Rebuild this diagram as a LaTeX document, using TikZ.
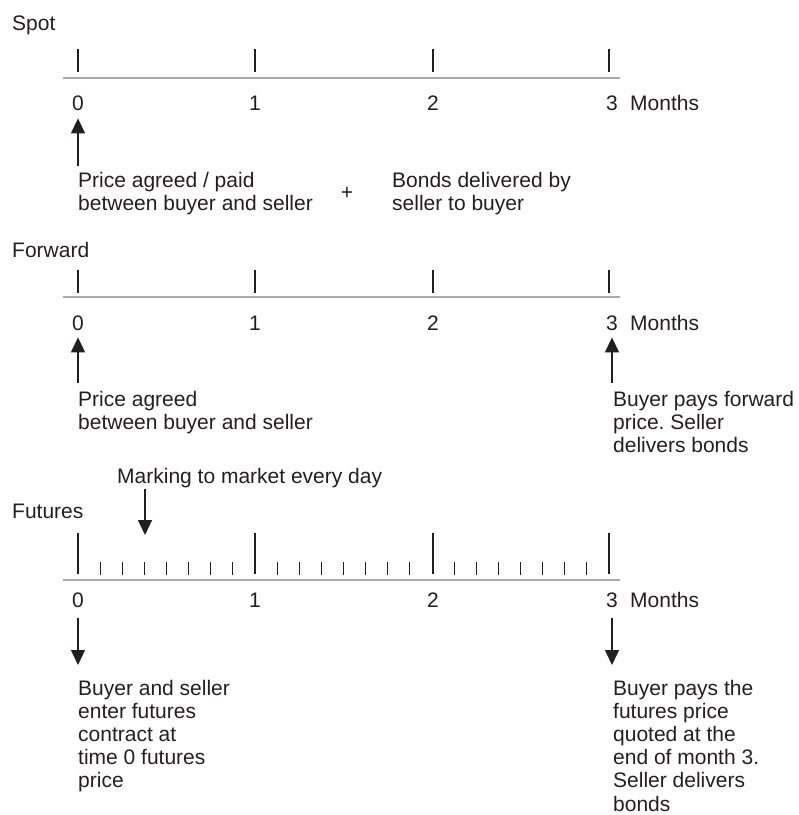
\documentclass[tikz,border=0pt]{standalone}
\usepackage{fontspec}
\setmainfont{Liberation Sans}
\usetikzlibrary{arrows.meta, positioning}
\definecolor{inkgray}{RGB}{35,31,32}
\definecolor{axisgray}{RGB}{167,169,172}
\newcommand{\notefont}{\fontsize{21}{23.2}\selectfont}
\frenchspacing

\begin{document}
\begin{tikzpicture}[x=1pt, y=-1pt, >={Triangle[length=15pt,width=14pt]},
    every node/.style={inner sep=0pt, text=inkgray, font=\notefont},
    axis/.style={axisgray, line width=2.5pt},
    monthtick/.style={inkgray, line width=1.3pt},
    daytick/.style={inkgray, line width=1.1pt},
    note/.style={align=left, anchor=north west},
    num/.style={anchor=base},
    title/.style={anchor=base west},
    arr/.style={->, inkgray, line width=1.3pt}]
  \useasboundingbox (0,0) rectangle (799,815);

  % Spot
  \node[title] (spot) at (12,30) {Spot};
  \draw[axis] (63,78) -- (620,78);
  \foreach \x in {78,255,433,609}
    \draw[monthtick] (\x,49) -- (\x,72);
  \foreach \i/\x in {0/78,1/255,2/433,3/612}
    \node[num] (s\i) at (\x,110) {\i};
  \node[right=12pt of s3] (smonths) {Months};
  \node[note] (spotpaid) at (78,171.7)
    {Price agreed / paid\\between buyer and seller};
  \node (plus) at (347,193) {+};
  \node[note] (spotbonds) at (392,171.7)
    {Bonds delivered by\\seller to buyer};
  \draw[arr, shorten <=6pt, shorten >=8pt] (s0 |- spotpaid.north) -- (s0.south);

  % Forward
  \node[title] (fwd) at (12,257) {Forward};
  \draw[axis] (63,297) -- (620,297);
  \foreach \x in {78,255,433,609}
    \draw[monthtick] (\x,270) -- (\x,293);
  \foreach \i/\x in {0/78,1/255,2/433,3/612}
    \node[num] (w\i) at (\x,330) {\i};
  \node[right=12pt of w3] (wmonths) {Months};
  \node[note] (fwdagree) at (78,390.7)
    {Price agreed\\between buyer and seller};
  \node[note] (fwdpay) at (613,390.7)
    {Buyer pays forward\\price. Seller\\delivers bonds};
  \draw[arr, shorten <=8pt, shorten >=7pt] (w0 |- fwdagree.north) -- (w0.south);
  \draw[arr, shorten <=8pt, shorten >=7pt] (w3 |- fwdpay.north) -- (w3.south);

  % Futures
  \node[title] (mark) at (117,483) {Marking to market every day};
  \node[title] (fut) at (12,518) {Futures};
  \draw[axis] (63,580) -- (620,580);
  \foreach \x in {78,255,433,609}
    \draw[monthtick] (\x,533) -- (\x,574);
  \foreach \m in {0,1,2}
    \foreach \k in {1,...,7}
      \draw[daytick] (78+177*\m+22.1*\k,562) -- (78+177*\m+22.1*\k,575);
  \foreach \i/\x in {0/78,1/255,2/433,3/612}
    \node[num] (f\i) at (\x,607) {\i};
  \node[right=12pt of f3] (fmonths) {Months};
  \coordinate (markpt) at (145,535);
  \draw[arr, shorten <=1pt] (markpt |- mark.south) -- (markpt);
  \node[note] (futenter) at (78,679.7)
    {Buyer and seller\\enter futures\\contract at\\time 0 futures\\price};
  \node[note] (futpay) at (613,679.7)
    {Buyer pays the\\futures price\\quoted at the\\end of month 3.\\Seller delivers\\bonds};
  \draw[arr, shorten <=11pt, shorten >=14.7pt] (f0.south) -- (f0 |- futenter.north);
  \draw[arr, shorten <=11pt, shorten >=14.7pt] (f3.south) -- (f3 |- futpay.north);
\end{tikzpicture}
\end{document}
